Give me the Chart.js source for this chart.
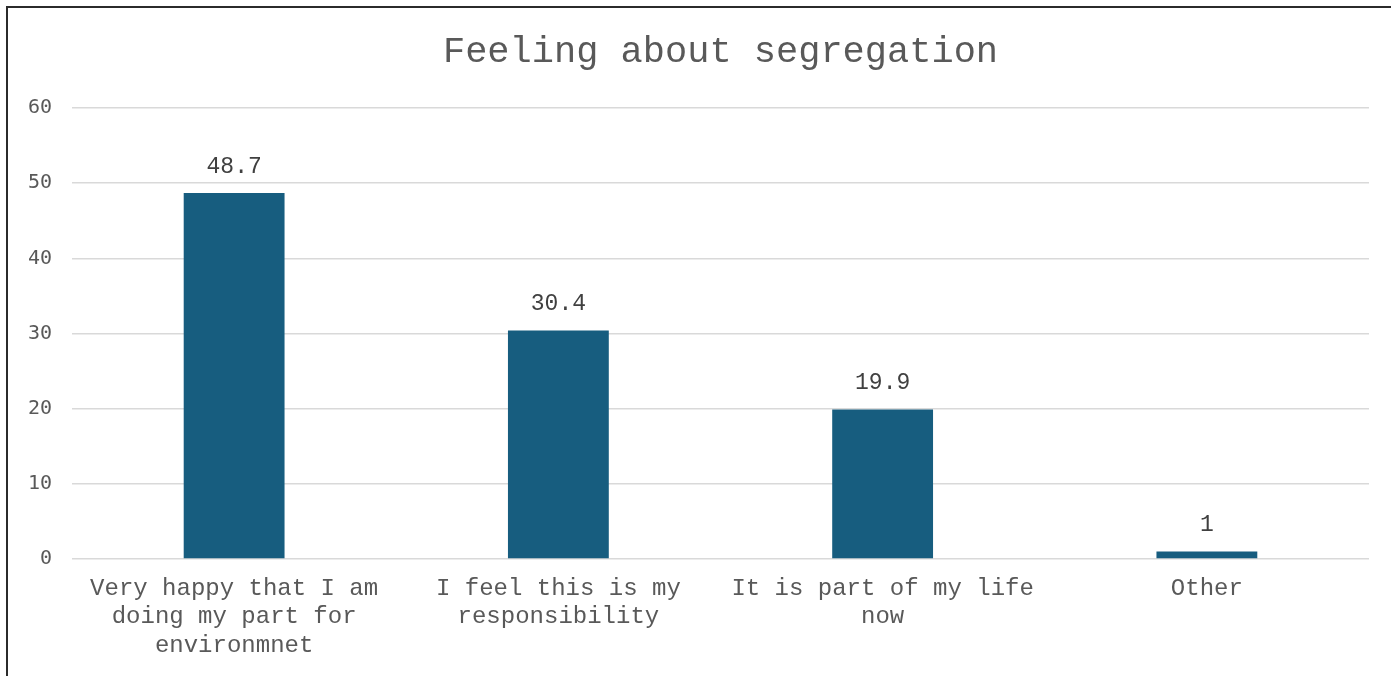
<!doctype html>
<html lang="en">
<head>
    <meta charset="utf-8" />
    <title>Feeling about segregation</title>
    <script src="https://cdn.jsdelivr.net/npm/chart.js@4.4.1/dist/chart.umd.min.js"></script>
    <style>
        html, body {
            margin: 0;
            padding: 0;
            background: #fff;
            overflow: hidden;
        }

        #frame {
            position: absolute;
            left: 6px;
            top: 6px;
            width: 1420px;
            height: 720px;
            border: 2px solid #2b2b2b;
            box-sizing: border-box;
        }

        #chart {
            position: absolute;
            left: 0;
            top: 0;
        }
    </style>
</head>
<body>
    <div id="frame"></div>
    <canvas id="chart" width="1391" height="676"></canvas>

    <script>
        const categories = [
            ['Very happy that I am', 'doing my part for', 'environmnet'],
            ['I feel this is my', 'responsibility'],
            ['It is part of my life', 'now'],
            ['Other']
        ];
        const percentages = [48.7, 30.4, 19.9, 1];
        const yTicks = [0, 10, 20, 30, 40, 50, 60];

        const mono = "'Liberation Mono', 'Courier New', monospace";
        const textGrey = '#595959';

        // write the value above every bar
        const valueLabels = {
            id: 'valueLabels',
            afterDatasetsDraw(chart) {
                const ctx = chart.ctx;
                const meta = chart.getDatasetMeta(0);
                ctx.save();
                ctx.font = '23px ' + mono;
                ctx.fillStyle = '#404040';
                ctx.textAlign = 'center';
                ctx.textBaseline = 'alphabetic';
                meta.data.forEach((bar, i) => {
                    ctx.fillText(String(percentages[i]), bar.x, bar.y - 20);
                });
                ctx.restore();
            }
        };

        new Chart(document.getElementById('chart'), {
            type: 'bar',
            data: {
                labels: categories,
                datasets: [{
                    data: percentages,
                    backgroundColor: '#175d7f',
                    barPercentage: 1,
                    categoryPercentage: 0.311
                }]
            },
            options: {
                responsive: false,
                animation: false,
                layout: {
                    padding: { left: 0, right: 22, top: 0, bottom: 0 }
                },
                plugins: {
                    legend: { display: false },
                    tooltip: { enabled: false },
                    title: {
                        display: true,
                        fullSize: false,
                        text: 'Feeling about segregation',
                        color: textGrey,
                        font: { family: mono, size: 37, weight: 'normal' },
                        padding: { top: 30, bottom: 33.6 }
                    }
                },
                scales: {
                    x: {
                        grid: { display: false, drawTicks: false },
                        border: { display: false },
                        ticks: {
                            color: textGrey,
                            font: { family: mono, size: 24, lineHeight: 1.17 },
                            padding: 16,
                            maxRotation: 0,
                            autoSkip: false
                        },
                        afterFit(scale) { scale.height = 117; }
                    },
                    y: {
                        min: 0,
                        max: 60,
                        afterBuildTicks(scale) {
                            scale.ticks = yTicks.map(v => ({ value: v }));
                        },
                        grid: { color: '#d9d9d9', lineWidth: 1.5, drawTicks: false },
                        border: { display: false },
                        ticks: {
                            color: textGrey,
                            font: { family: "'DejaVu Sans Mono', monospace", size: 20 },
                            padding: 20
                        },
                        afterFit(scale) { scale.width = 72; }
                    }
                }
            },
            plugins: [valueLabels]
        });
    </script>
</body>
</html>
